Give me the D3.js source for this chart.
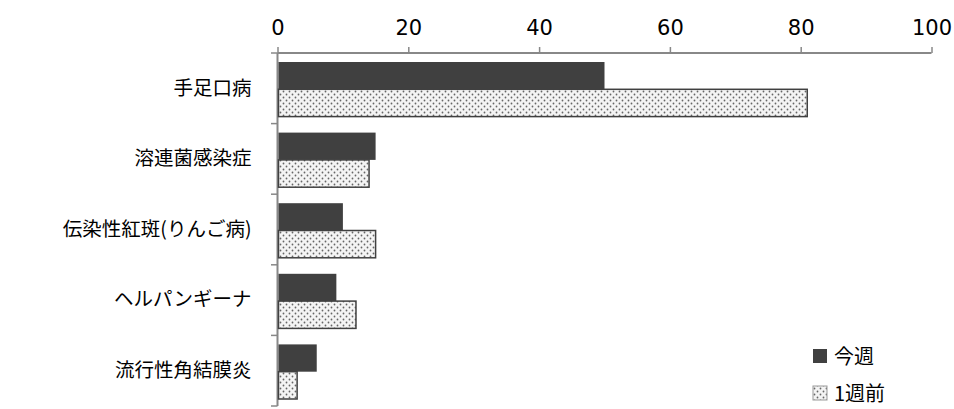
<!DOCTYPE html>
<html><head><meta charset="utf-8">
<script src="https://cdn.jsdelivr.net/npm/d3@7"></script>
<style>body{margin:0;background:#fff}text{font-family:"Noto Sans CJK JP",sans-serif}</style>
</head><body><svg id="c" width="954" height="409"></svg>
<script>
const categories=["手足口病","溶連菌感染症","伝染性紅斑(りんご病)","ヘルパンギーナ","流行性角結膜炎"];
const thisWeek=[50,15,10,9,6];
const lastWeek=[81,14,15,12,3];
const ticks=[0,20,40,60,80,100];
const seriesNames=["今週","1週前"];
const svg=d3.select("#c");
const defs=svg.append("defs");
const p=defs.append("pattern").attr("id","dots").attr("patternUnits","userSpaceOnUse").attr("width",6).attr("height",6);
p.append("rect").attr("width",6).attr("height",6).attr("fill","#f4f4f4");
p.append("circle").attr("cx",1.5).attr("cy",1.5).attr("r",0.9).attr("fill","#666");
p.append("circle").attr("cx",4.5).attr("cy",4.5).attr("r",0.9).attr("fill","#666");
const x=d3.scaleLinear().domain([0,100]).range([277.5,931.5]);
const y=d3.scaleBand().domain(categories).range([53,406]);
const inner=d3.scaleBand().domain([0,1]).range([9,y.bandwidth()-7]);
const ax=svg.append("g").attr("transform","translate(0,53)").call(d3.axisTop(x).tickValues(ticks).tickSize(6).tickPadding(12));
ax.attr("font-size",null).attr("font-family",null);
ax.selectAll("text").attr("font-size",21).attr("fill","#000").style("font-family","'DejaVu Sans', sans-serif");
ax.select(".domain").attr("stroke","#888").attr("stroke-width",2).attr("d","M277.5,0H931.5");
ax.selectAll(".tick line").attr("stroke","#888").attr("stroke-width",1.5);
const ay=svg.append("g").attr("transform","translate(277.5,0)").call(d3.axisLeft(y).tickSize(0).tickPadding(26));
ay.attr("font-size",null).attr("font-family",null);
ay.selectAll("text").attr("font-size",19.5).attr("fill","#000");
ay.select(".domain").attr("stroke","#888").attr("stroke-width",2).attr("d","M0,53V406");
categories.concat([null]).forEach((c,i)=>{const yy=53+i*y.bandwidth();svg.append("line").attr("x1",271).attr("x2",277.5).attr("y1",yy).attr("y2",yy).attr("stroke","#888").attr("stroke-width",1.5);});
const g=svg.append("g");
[thisWeek,lastWeek].forEach((vals,s)=>{
 g.selectAll(null).data(vals).enter().append("rect")
  .attr("x",x(0)+1).attr("y",(d,i)=>y(categories[i])+inner(s))
  .attr("width",d=>x(d)-x(0)-1).attr("height",inner.bandwidth())
  .attr("fill",s?"url(#dots)":"#404040").attr("stroke",s?"#404040":"none").attr("stroke-width",1.5);
});
const lg=svg.append("g");
seriesNames.forEach((n,i)=>{
 const yy=356+i*37;
 lg.append("rect").attr("x",813).attr("y",yy-7).attr("width",14).attr("height",14).attr("fill",i?"url(#dots)":"#404040").attr("stroke",i?"#999":"none");
 lg.append("text").attr("x",834).attr("y",yy+8).attr("font-size",20).text(n);
});
</script></body></html>
